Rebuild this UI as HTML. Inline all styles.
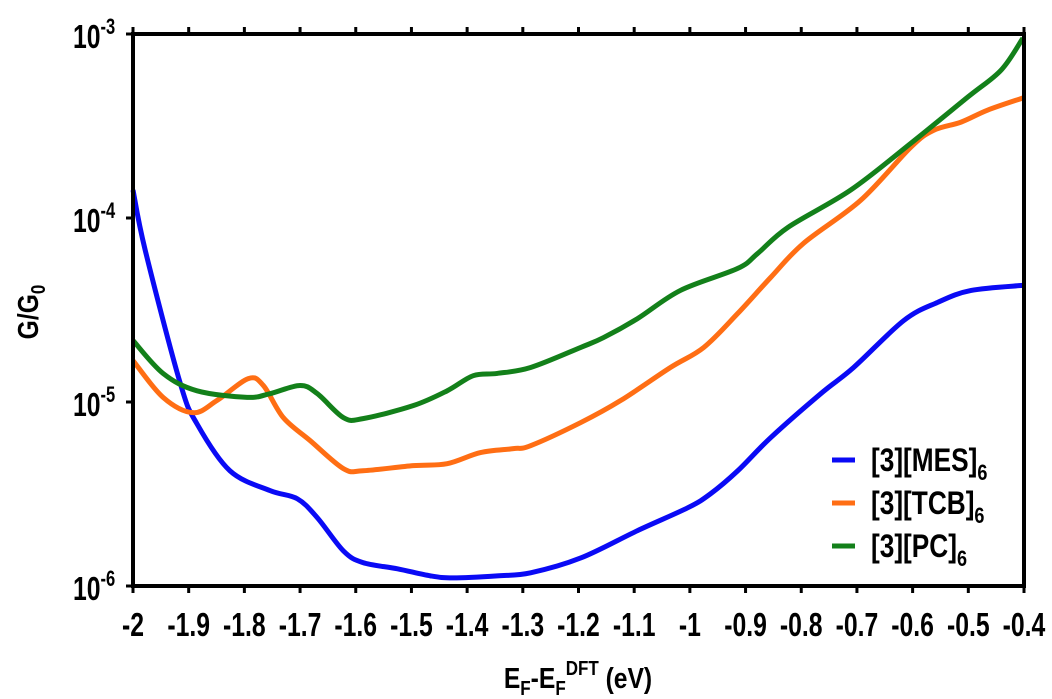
<!DOCTYPE html>
<html><head><meta charset="utf-8"><style>
html,body{margin:0;padding:0;background:#fff;}
svg{display:block;font-family:"Liberation Sans",Arial,sans-serif;font-weight:bold;}
</style></head><body>
<svg id="chart" width="1052" height="699" viewBox="0 0 1052 699" xmlns="http://www.w3.org/2000/svg">
<g id="grid"></g>
<g id="series"></g>
<rect x="133" y="34" width="891" height="552" fill="none" stroke="#000" stroke-width="4"/>
<g id="axes"></g>
<text transform="translate(38,312) rotate(-90) scale(0.85,1)" text-anchor="middle" font-size="29">G/G<tspan font-size="20" dy="7">0</tspan></text>
<text transform="translate(578,688) scale(0.85,1)" text-anchor="middle" font-size="29">E<tspan font-size="20" dy="7">F</tspan><tspan dy="-7">-E</tspan><tspan font-size="20" dy="7">F</tspan><tspan font-size="20" dy="-20">DFT</tspan><tspan dy="13"> (eV)</tspan></text>
<g id="legend"></g>
</svg>
<script>
const xTicks=[-2,-1.9,-1.8,-1.7,-1.6,-1.5,-1.4,-1.3,-1.2,-1.1,-1,-0.9,-0.8,-0.7,-0.6,-0.5,-0.4];
const xTickLabels=["-2","-1.9","-1.8","-1.7","-1.6","-1.5","-1.4","-1.3","-1.2","-1.1","-1","-0.9","-0.8","-0.7","-0.6","-0.5","-0.4"];
const yTickExps=[-3,-4,-5,-6];
const seriesNames=["[3][MES]","[3][TCB]","[3][PC]"];
const mesX=[-2,-1.978,-1.915,-1.885,-1.826,-1.754,-1.705,-1.669,-1.622,-1.587,-1.525,-1.466,-1.425,-1.346,-1.286,-1.196,-1.094,-1.004,-0.963,-0.914,-0.855,-0.765,-0.706,-0.616,-0.555,-0.495,-0.4];
const mesY=[1.42e-4,6.67e-5,1.26e-5,7.6e-6,4.23e-6,3.3e-6,2.98e-6,2.35e-6,1.55e-6,1.34e-6,1.24e-6,1.135e-6,1.107e-6,1.135e-6,1.18e-6,1.42e-6,2.0e-6,2.66e-6,3.17e-6,4.23e-6,6.4e-6,1.11e-5,1.54e-5,2.77e-5,3.48e-5,4.04e-5,4.31e-5];
const tcbX=[-2,-1.946,-1.892,-1.849,-1.793,-1.766,-1.73,-1.682,-1.622,-1.587,-1.497,-1.436,-1.376,-1.317,-1.286,-1.196,-1.124,-1.035,-0.975,-0.914,-0.855,-0.796,-0.693,-0.603,-0.562,-0.513,-0.465,-0.402];
const tcbY=[1.68e-5,1.06e-5,8.75e-6,1.02e-5,1.34e-5,1.23e-5,8.22e-6,6.17e-6,4.34e-6,4.23e-6,4.51e-6,4.62e-6,5.31e-6,5.58e-6,5.79e-6,7.73e-6,1.02e-5,1.54e-5,1.98e-5,3.03e-5,4.75e-5,7.28e-5,1.25e-4,2.43e-4,3.0e-4,3.32e-4,3.86e-4,4.49e-4];
const pcX=[-2,-1.946,-1.885,-1.795,-1.754,-1.7,-1.669,-1.622,-1.587,-1.497,-1.436,-1.389,-1.346,-1.286,-1.196,-1.155,-1.094,-1.017,-0.914,-0.878,-0.824,-0.711,-0.603,-0.501,-0.441,-0.402];
const pcY=[2.16e-5,1.43e-5,1.15e-5,1.06e-5,1.11e-5,1.23e-5,1.11e-5,8.22e-6,8.12e-6,9.55e-6,1.15e-5,1.39e-5,1.43e-5,1.54e-5,1.98e-5,2.24e-5,2.84e-5,4.04e-5,5.32e-5,6.43e-5,8.89e-5,1.42e-4,2.55e-4,4.54e-4,6.37e-4,9.5e-4];

const NS="http://www.w3.org/2000/svg";
const X0=133,X1=1024,Y0=34,Y1=586;
const xMin=-2,xMax=-0.4,eMax=-3,eMin=-6;
function sx(v){return X0+(v-xMin)/(xMax-xMin)*(X1-X0);}
function sy(v){const e=Math.log10(v);return Y0+(eMax-e)/(eMax-eMin)*(Y1-Y0);}
function mk(t,parent){const el=document.createElementNS(NS,t);parent.appendChild(el);return el;}
const axes=document.getElementById('axes');
xTicks.forEach((t,i)=>{
  const x=sx(t);
  const tb=mk('line',axes);
  
  
  tb.setAttribute('x1',x);tb.setAttribute('x2',x);tb.setAttribute('y1',Y1);tb.setAttribute('y2',Y1+7);
  tb.setAttribute('stroke','#000');tb.setAttribute('stroke-width','3');
  const tt=mk('line',axes);
  
  
  tt.setAttribute('x1',x);tt.setAttribute('x2',x);tt.setAttribute('y1',Y0);tt.setAttribute('y2',Y0-7);
  tt.setAttribute('stroke','#000');tt.setAttribute('stroke-width','3');
  const lb=mk('text',axes);
  
  
  lb.setAttribute('transform','translate('+x+',636) scale(0.75,1)');
  lb.setAttribute('text-anchor','middle');
  lb.setAttribute('font-size','33');
  lb.textContent=xTickLabels[i];
});
yTickExps.forEach(e=>{
  const y=sy(Math.pow(10,e));
  const tk=mk('line',axes);
  
  
  tk.setAttribute('x1',X0-7);tk.setAttribute('x2',X0);tk.setAttribute('y1',y);tk.setAttribute('y2',y);
  tk.setAttribute('stroke','#000');tk.setAttribute('stroke-width','3');
  const lb=mk('text',axes);
  
  
  lb.setAttribute('transform','translate(73,'+(y+14)+') scale(0.75,1)');
  lb.setAttribute('font-size','33');
  const b=mk('tspan',lb);b.textContent='10';
  const s=mk('tspan',lb);s.setAttribute('font-size','22');s.setAttribute('dy','-14');s.textContent=String(e);
});
function pathFrom(xs,ys){
  const p=xs.map((x,i)=>[sx(x),sy(ys[i])]);
  let d='M'+p[0][0]+','+p[0][1];
  for(let i=0;i<p.length-1;i++){
    const p0=p[Math.max(0,i-1)],p1=p[i],p2=p[i+1],p3=p[Math.min(p.length-1,i+2)];
    const c1=[p1[0]+(p2[0]-p0[0])/6,p1[1]+(p2[1]-p0[1])/6];
    const c2=[p2[0]-(p3[0]-p1[0])/6,p2[1]-(p3[1]-p1[1])/6];
    d+=' C'+c1[0]+','+c1[1]+' '+c2[0]+','+c2[1]+' '+p2[0]+','+p2[1];
  }
  return d;
}
const ser=document.getElementById('series');
const colors=['#0a0af5','#ff6e14','#13801a'];
const sdata=[[mesX,mesY],[tcbX,tcbY],[pcX,pcY]];
const snames=['line-mes','line-tcb','line-pc'];
sdata.forEach((s,i)=>{
  const pa=mk('path',ser);
  
  
  pa.setAttribute('d',pathFrom(s[0],s[1]));
  pa.setAttribute('fill','none');pa.setAttribute('stroke',colors[i]);
  pa.setAttribute('stroke-width','5');pa.setAttribute('stroke-linejoin','round');
});
const leg=document.getElementById('legend');
seriesNames.forEach((n,i)=>{
  const y=460+i*43;
  const sw=mk('line',leg);
  
  
  sw.setAttribute('x1',832);sw.setAttribute('x2',855);sw.setAttribute('y1',y);sw.setAttribute('y2',y);
  sw.setAttribute('stroke',colors[i]);sw.setAttribute('stroke-width','5');
  const t=mk('text',leg);
  
  
  t.setAttribute('transform','translate(871,'+(y+11)+') scale(0.82,1)');
  t.setAttribute('font-size','32');
  const a=mk('tspan',t);a.textContent=n;
  const b=mk('tspan',t);b.setAttribute('font-size','22');b.setAttribute('dy','9');b.textContent='6';
});
</script>
</body></html>
